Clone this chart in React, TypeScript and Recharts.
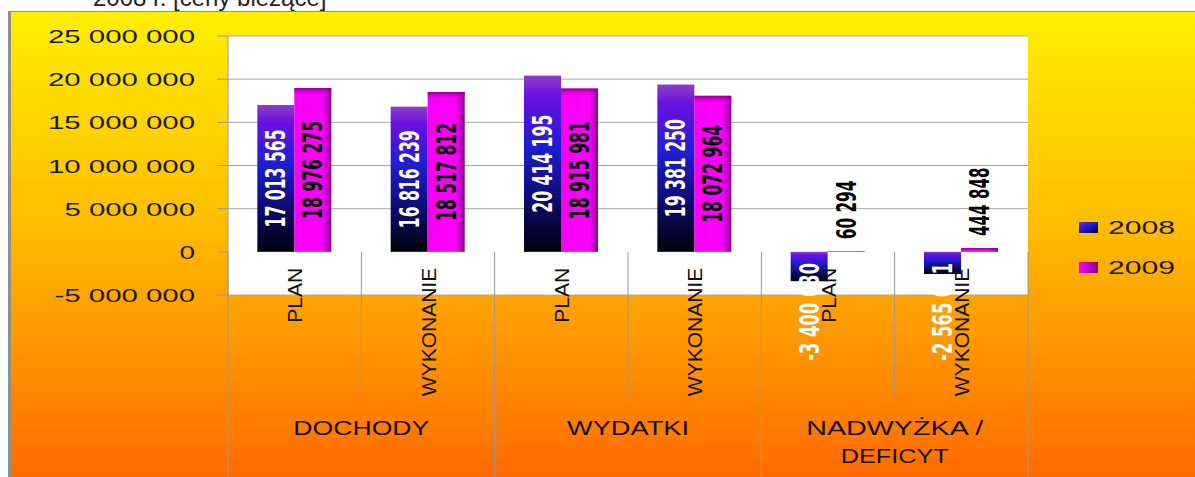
import React from "react";
import { BarChart, Bar, XAxis, YAxis, CartesianGrid, Legend, LabelList } from "recharts";

const subCategories = ["PLAN", "WYKONANIE", "PLAN", "WYKONANIE", "PLAN", "WYKONANIE"];
const groups = [["DOCHODY"], ["WYDATKI"], ["NADWYŻKA /", "DEFICYT"]];
const values2008 = [17013565, 16816239, 20414195, 19381250, -3400630, -2565011];
const values2009 = [18976275, 18517812, 18915981, 18072964, 60294, 444848];
const seriesNames = ["2008", "2009"];
const yTicks = [-5000000, 0, 5000000, 10000000, 15000000, 20000000, 25000000];
const gridValues = [-5000000, 5000000, 10000000, 15000000, 20000000, 25000000];

const data = subCategories.map((name, i) => ({
  id: i,
  name,
  v2008: values2008[i],
  v2009: values2009[i],
}));

// layout
const W = 1195;
const H = 477;
const PLOT_LEFT = 228;
const PLOT_RIGHT = 1028;
const PLOT_TOP = 36;
const PLOT_BOTTOM = 295;
const Y_MIN = -5000000;
const Y_MAX = 25000000;
const ZERO_Y = PLOT_TOP + ((PLOT_BOTTOM - PLOT_TOP) * Y_MAX) / (Y_MAX - Y_MIN);
const BAND = (PLOT_RIGHT - PLOT_LEFT) / subCategories.length;
const LINE = "#9a9a9a";

const fmt = (v: number) =>
  (v < 0 ? "-" : "") + Math.abs(v).toString().replace(/\B(?=(\d{3})+(?!\d))/g, " ");

const tickWidth = (s: string) =>
  s.split("").reduce((w, c) => w + (c === " " ? 8 : c === "-" ? 10 : 16.5), 0) - 1;

function ValueTick(props: any) {
  const { x, y, payload } = props;
  const s = fmt(payload.value);
  return (
    <text
      x={x}
      y={y + 7}
      textAnchor="end"
      fontFamily="Liberation Sans, Arial, sans-serif"
      fontSize={19}
      fill="#1a1a1a"
      textLength={tickWidth(s)}
      lengthAdjust="spacingAndGlyphs"
    >
      {s}
    </text>
  );
}

const groupWidths: Record<string, number> = {
  DOCHODY: 136,
  WYDATKI: 122,
  "NADWYŻKA /": 177,
  DEFICYT: 108,
};

function CategoryTick(props: any) {
  const { x, payload } = props;
  const i = Number(payload.value);
  const left = x - BAND / 2;
  const isGroupStart = i % 2 === 0;
  const last = i === subCategories.length - 1;
  return (
    <g>
      <line x1={left} x2={left} y1={ZERO_Y} y2={isGroupStart ? H : 395} stroke={LINE} strokeWidth={1} />
      {last && <line x1={left + BAND} x2={left + BAND} y1={ZERO_Y} y2={H} stroke={LINE} strokeWidth={1} />}
      <text
        transform={`translate(${x},${ZERO_Y + 16}) rotate(-90)`}
        textAnchor="end"
        dy="0.36em"
        fontFamily="Liberation Sans, Arial, sans-serif"
        fontSize={21}
        fill="#111"
      >
        {subCategories[i]}
      </text>
      {isGroupStart &&
        groups[i / 2].map((line, k) => (
          <text
            key={k}
            x={x + BAND / 2}
            y={428 + k * 28 + 7}
            textAnchor="middle"
            fontFamily="Liberation Sans, Arial, sans-serif"
            fontSize={20}
            fill="#111"
            textLength={groupWidths[line]}
            lengthAdjust="spacingAndGlyphs"
          >
            {line}
          </text>
        ))}
    </g>
  );
}

function Shape2008(props: any) {
  const { x, y, width, height } = props;
  const top = Math.min(y, y + height);
  const h = Math.abs(height);
  return <rect x={x} y={top} width={width} height={h} fill="url(#g2008)" />;
}

function Shape2009(props: any) {
  const { x, y, width, height } = props;
  const top = Math.min(y, y + height);
  const h = Math.abs(height);
  return (
    <g>
      <rect x={x} y={top} width={width} height={h} fill="url(#g2009)" />
      <rect x={x} y={top} width={width} height={Math.min(h, 8)} fill="url(#g2009top)" />
    </g>
  );
}

const makeLabel = (color: string) => (props: any) => {
  const vb = props.viewBox && props.viewBox.width != null ? props.viewBox : props;
  const { x, y, width, height } = vb;
  const value = Number(props.value);
  const a = y;
  const b = y + height;
  const top = Math.min(a, b);
  const bottom = Math.max(a, b);
  const cx = x + width / 2;
  const s = fmt(value);
  let cy: number;
  let anchor: "middle" | "start" = "middle";
  if (value < 0) {
    cy = top + 60;
  } else if (bottom - top < 40) {
    cy = top - 12;
    anchor = "start";
  } else {
    cy = (top + bottom) / 2;
  }
  return (
    <text
      transform={`translate(${cx},${cy}) rotate(-90)`}
      textAnchor={anchor}
      dy="0.36em"
      fontFamily="DejaVu Sans Condensed, DejaVu Sans, sans-serif"
      fontWeight="bold"
      fontSize={26}
      fill={color}
      textLength={s.length * 9.8}
      lengthAdjust="spacingAndGlyphs"
    >
      {s}
    </text>
  );
};

const Label2008 = makeLabel("#ffffff");
const Label2009 = makeLabel("#000000");

function LegendBox(props: any) {
  const payload = props.payload || [];
  return (
    <svg width={125} height={70}>
      {payload.map((p: any, i: number) => (
        <g key={p.value} transform={`translate(0,${i * 40})`}>
          <rect x={9} y={12} width={19} height={11} fill={i === 0 ? "url(#g2008l)" : "url(#g2009l)"} />
          <text
            x={38}
            y={24}
            fontFamily="Liberation Sans, Arial, sans-serif"
            fontSize={19}
            fill="#1a1a1a"
            textLength={67}
            lengthAdjust="spacingAndGlyphs"
          >
            {p.value}
          </text>
        </g>
      ))}
    </svg>
  );
}

export default function App() {
  return (
    <div style={{ position: "absolute", left: 0, top: 0, width: W, height: H, overflow: "hidden", background: "#fff" }}>
      <div
        style={{
          position: "absolute",
          left: 8,
          top: 11,
          width: W - 8,
          height: H - 11,
          borderLeft: "3px solid #8f8f8f",
          borderTop: "1px solid #8f8f8f",
          boxSizing: "border-box",
          background:
            "linear-gradient(180deg, #fff000 0%, #ffd800 20%, #ffbe00 45%, #ffa300 62%, #ff8a00 80%, #ff6a00 100%)",
        }}
      />
      <div
        style={{
          position: "absolute",
          left: 93,
          top: -14,
          fontFamily: "Liberation Sans, Arial, sans-serif",
          fontSize: 24,
          lineHeight: "24px",
          color: "#222",
          whiteSpace: "nowrap",
        }}
      >
        2008 r. [ceny bieżące]
      </div>
      <div style={{ position: "absolute", left: 0, top: 0 }}>
        <BarChart
          width={W}
          height={H}
          data={data}
          margin={{ top: PLOT_TOP, right: W - PLOT_RIGHT, bottom: 0, left: 0 }}
          barCategoryGap="22%"
          barGap={0}
        >
          <defs>
            <linearGradient id="g2008" x1="0" y1="0" x2="0" y2="1">
              <stop offset="0" stopColor="#8b3fc8" />
              <stop offset="0.12" stopColor="#6a10e0" />
              <stop offset="0.4" stopColor="#1e1ed2" />
              <stop offset="0.7" stopColor="#0c0c70" />
              <stop offset="1" stopColor="#000008" />
            </linearGradient>
            <linearGradient id="g2009" x1="0" y1="0" x2="1" y2="0">
              <stop offset="0" stopColor="#f400f4" />
              <stop offset="0.75" stopColor="#ff00ff" />
              <stop offset="0.9" stopColor="#c000c0" />
              <stop offset="1" stopColor="#800080" />
            </linearGradient>
            <linearGradient id="g2009top" x1="0" y1="0" x2="0" y2="1">
              <stop offset="0" stopColor="#800080" stopOpacity={0.9} />
              <stop offset="1" stopColor="#ff00ff" stopOpacity={0} />
            </linearGradient>
            <linearGradient id="g2008l" x1="0" y1="0" x2="1" y2="1">
              <stop offset="0" stopColor="#7a20e0" />
              <stop offset="0.5" stopColor="#1a1acc" />
              <stop offset="1" stopColor="#000020" />
            </linearGradient>
            <linearGradient id="g2009l" x1="0" y1="0" x2="1" y2="0">
              <stop offset="0" stopColor="#ff00ff" />
              <stop offset="1" stopColor="#800080" />
            </linearGradient>
          </defs>
          <CartesianGrid vertical={false} horizontalValues={gridValues} stroke="#a8a8a8" fill="#ffffff" fillOpacity={1} />
          <XAxis
            dataKey="id"
            height={H - PLOT_BOTTOM}
            axisLine={false}
            tickLine={false}
            interval={0}
            tick={<CategoryTick />}
          />
          <YAxis
            width={PLOT_LEFT}
            domain={[Y_MIN, Y_MAX]}
            ticks={yTicks}
            interval={0}
            allowDataOverflow
            tickSize={11}
            tickMargin={22}
            axisLine={{ stroke: LINE }}
            tickLine={{ stroke: LINE }}
            tick={<ValueTick />}
          />
          <Legend
            layout="horizontal"
            align="center"
            verticalAlign="middle"
            content={<LegendBox />}
            wrapperStyle={{ position: "absolute", left: 1070, top: 210, width: 125, height: 70 }}
          />
          <Bar dataKey="v2008" name={seriesNames[0]} shape={<Shape2008 />} isAnimationActive={false}>
            <LabelList dataKey="v2008" content={Label2008} />
          </Bar>
          <Bar dataKey="v2009" name={seriesNames[1]} shape={<Shape2009 />} isAnimationActive={false}>
            <LabelList dataKey="v2009" content={Label2009} />
          </Bar>
        </BarChart>
      </div>
    </div>
  );
}
